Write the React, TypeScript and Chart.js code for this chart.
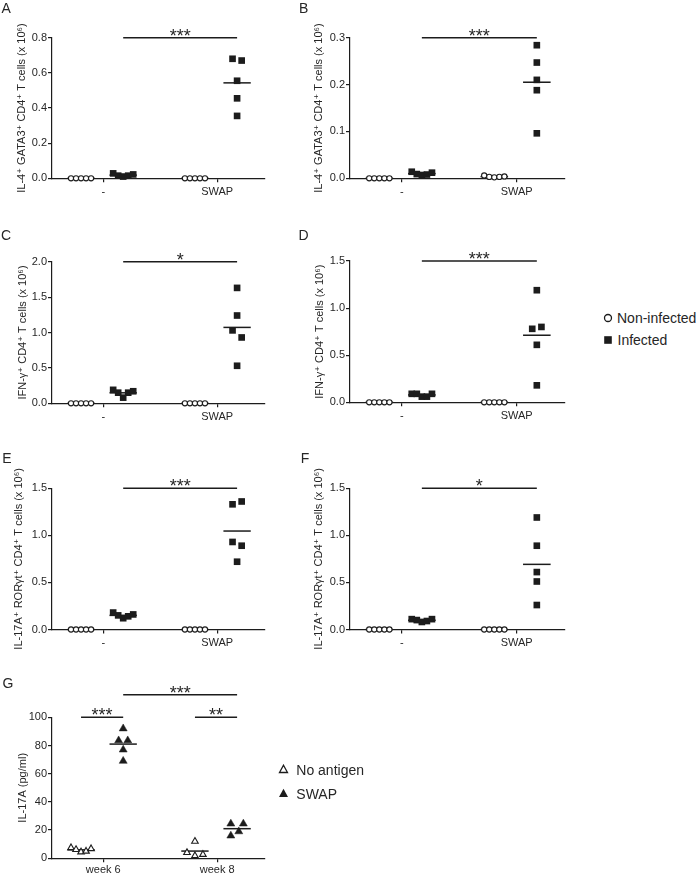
import React, { useEffect, useRef } from 'react';
import { Chart, registerables } from 'chart.js';

Chart.register(...registerables);

const FONT = "'Liberation Sans', Arial, 'DejaVu Sans', sans-serif";
const INK = '#1c1c1c';
const TXT = '#262626';

// ---- categories and tick labels ----
const cellCategories = ['-', 'SWAP'];
const weekCategories = ['week 6', 'week 8'];
const ticksA = [0, 0.2, 0.4, 0.6, 0.8];
const ticksB = [0, 0.1, 0.2, 0.3];
const ticksC = [0, 0.5, 1.0, 1.5, 2.0];
const ticksDEF = [0, 0.5, 1.0, 1.5];
const ticksG = [0, 20, 40, 60, 80, 100];

// ---- Panel A: IL-4+ GATA3+ CD4+ T cells (x10^6) ----
const aNonInfMinus = [0, 0, 0, 0, 0];
const aInfMinus = [0.028, 0.015, 0.01, 0.015, 0.022];
const aNonInfSwap = [0, 0, 0, 0, 0];
const aInfSwap = [0.68, 0.67, 0.555, 0.455, 0.355];

// ---- Panel B ----
const bNonInfMinus = [0, 0, 0, 0, 0];
const bInfMinus = [0.014, 0.009, 0.007, 0.008, 0.012];
const bNonInfSwap = [0.006, 0.003, 0.002, 0.003, 0.004];
const bInfSwap = [0.284, 0.247, 0.21, 0.188, 0.096];

// ---- Panel C: IFN-g+ CD4+ ----
const cNonInfMinus = [0, 0, 0, 0, 0];
const cInfMinus = [0.19, 0.15, 0.08, 0.15, 0.17];
const cNonInfSwap = [0, 0, 0, 0, 0];
const cInfSwap = [1.63, 1.24, 1.03, 0.93, 0.53];

// ---- Panel D ----
const dNonInfMinus = [0, 0, 0, 0, 0];
const dInfMinus = [0.09, 0.09, 0.06, 0.06, 0.09];
const dNonInfSwap = [0, 0, 0, 0, 0];
const dInfSwap = [1.19, 0.78, 0.8, 0.61, 0.18];

// ---- Panel E: IL-17A+ RORgt+ CD4+ ----
const eNonInfMinus = [0, 0, 0, 0, 0];
const eInfMinus = [0.18, 0.15, 0.12, 0.14, 0.16];
const eNonInfSwap = [0, 0, 0, 0, 0];
const eInfSwap = [1.33, 1.36, 0.93, 0.89, 0.72];

// ---- Panel F ----
const fNonInfMinus = [0, 0, 0, 0, 0];
const fInfMinus = [0.11, 0.1, 0.08, 0.09, 0.11];
const fNonInfSwap = [0, 0, 0, 0, 0];
const fInfSwap = [1.19, 0.89, 0.61, 0.51, 0.26];

// ---- Panel G: IL-17A (pg/ml) ----
const gNoAgWeek6 = [7.5, 6.2, 4.5, 5.0, 6.8];
const gSwapWeek6 = [92, 83.5, 83.5, 77, 69];
const gNoAgWeek8 = [12, 4, 1.8, 2.7];
const gSwapWeek8 = [24.5, 24.5, 16, 19];

// ---- horizontal scatter offsets (layout only) ----
const spreadA = [-0.04, 0.04, 0, 0, 0];
const spreadB = [0, 0, 0, 0, 0];
const spreadC = [0, 0, -0.04, 0.04, 0];
const spreadD = [0, -0.04, 0.04, 0, 0];
const spreadE = [-0.04, 0.04, -0.04, 0.04, 0];
const spreadF = [0, 0, 0, 0, 0];
const spreadG6 = [0, -0.04, 0.04, 0, 0];
const spreadG8open = [0, -0.07, 0, 0.07];
const spreadG8fill = [-0.055, 0.055, -0.055, 0.015];

const LEFT_OFF = -0.195;
const RIGHT_OFF = 0.175;
const MEAN_HALF = 0.12;

type Group = { cat: number; side: 'L' | 'R'; values: number[]; spread?: number[]; open: boolean };
type Sig = { from: [number, 'L' | 'R']; to: [number, 'L' | 'R']; y: number; label: string };
type PanelCfg = {
  canvas: { left: number; top: number; width: number; height: number };
  area: { L: number; T: number; R: number; B: number };
  yTicks: number[];
  decimals: number;
  title: string;
  titleCenter: number;
  labels: string[];
  groups: Group[];
  sigs: Sig[];
  triangles: boolean;
  xPad: number;
};

const groupX = (cat: number, side: 'L' | 'R') => cat + (side === 'L' ? LEFT_OFF : RIGHT_OFF);
const defaultSpread = (n: number) => Array.from({ length: n }, (_, i) => (i - (n - 1) / 2) * 0.044);
const mean = (v: number[]) => v.reduce((a, b) => a + b, 0) / v.length;

function cellGroups(nm: number[], im: number[], ns: number[], is: number[], spread: number[]): Group[] {
  return [
    { cat: 1, side: 'L', values: nm, open: true },
    { cat: 1, side: 'R', values: im, open: false },
    { cat: 2, side: 'L', values: ns, open: true },
    { cat: 2, side: 'R', values: is, open: false, spread },
  ];
}

const leftCol = 0;
const rightCol = 290;

const panels: PanelCfg[] = [
  {
    canvas: { left: leftCol, top: 0, width: 290, height: 205 },
    area: { L: 52, T: 37.7, R: 265, B: 178.3 },
    yTicks: ticksA, decimals: 1,
    title: 'IL-4⁺ GATA3⁺ CD4⁺ T cells (x 10⁶)', titleCenter: 22,
    labels: cellCategories,
    groups: cellGroups(aNonInfMinus, aInfMinus, aNonInfSwap, aInfSwap, spreadA),
    sigs: [{ from: [1, 'R'], to: [2, 'R'], y: 0.8, label: '***' }],
    triangles: false, xPad: 3,
  },
  {
    canvas: { left: rightCol, top: 0, width: 290, height: 205 },
    area: { L: 350, T: 37.7, R: 565, B: 178.3 },
    yTicks: ticksB, decimals: 1,
    title: 'IL-4⁺ GATA3⁺ CD4⁺ T cells (x 10⁶)', titleCenter: 319,
    labels: cellCategories,
    groups: cellGroups(bNonInfMinus, bInfMinus, bNonInfSwap, bInfSwap, spreadB),
    sigs: [{ from: [1, 'R'], to: [2, 'R'], y: 0.3, label: '***' }],
    triangles: false, xPad: 3,
  },
  {
    canvas: { left: leftCol, top: 215, width: 290, height: 215 },
    area: { L: 52, T: 261.7, R: 265, B: 403.3 },
    yTicks: ticksC, decimals: 1,
    title: 'IFN-γ⁺ CD4⁺ T cells (x 10⁶)', titleCenter: 22.5,
    labels: cellCategories,
    groups: cellGroups(cNonInfMinus, cInfMinus, cNonInfSwap, cInfSwap, spreadC),
    sigs: [{ from: [1, 'R'], to: [2, 'R'], y: 2.0, label: '*' }],
    triangles: false, xPad: 3,
  },
  {
    canvas: { left: rightCol, top: 215, width: 290, height: 215 },
    area: { L: 350, T: 261, R: 565, B: 402.3 },
    yTicks: ticksDEF, decimals: 1,
    title: 'IFN-γ⁺ CD4⁺ T cells (x 10⁶)', titleCenter: 320,
    labels: cellCategories,
    groups: cellGroups(dNonInfMinus, dInfMinus, dNonInfSwap, dInfSwap, spreadD),
    sigs: [{ from: [1, 'R'], to: [2, 'R'], y: 1.5, label: '***' }],
    triangles: false, xPad: 3,
  },
  {
    canvas: { left: leftCol, top: 440, width: 290, height: 215 },
    area: { L: 52, T: 488.3, R: 265, B: 629.5 },
    yTicks: ticksDEF, decimals: 1,
    title: 'IL-17A⁺ RORγt⁺ CD4⁺ T cells (x 10⁶)', titleCenter: 19,
    labels: cellCategories,
    groups: cellGroups(eNonInfMinus, eInfMinus, eNonInfSwap, eInfSwap, spreadE),
    sigs: [{ from: [1, 'R'], to: [2, 'R'], y: 1.5, label: '***' }],
    triangles: false, xPad: 3,
  },
  {
    canvas: { left: rightCol, top: 440, width: 290, height: 215 },
    area: { L: 350, T: 488.3, R: 565, B: 629.5 },
    yTicks: ticksDEF, decimals: 1,
    title: 'IL-17A⁺ RORγt⁺ CD4⁺ T cells (x 10⁶)', titleCenter: 319,
    labels: cellCategories,
    groups: cellGroups(fNonInfMinus, fInfMinus, fNonInfSwap, fInfSwap, spreadF),
    sigs: [{ from: [1, 'R'], to: [2, 'R'], y: 1.5, label: '*' }],
    triangles: false, xPad: 3,
  },
  {
    canvas: { left: leftCol, top: 665, width: 290, height: 209 },
    area: { L: 52, T: 717.3, R: 265, B: 858.3 },
    yTicks: ticksG, decimals: 0,
    title: 'IL-17A (pg/ml)', titleCenter: 23,
    labels: weekCategories,
    groups: [
      { cat: 1, side: 'L', values: gNoAgWeek6, open: true },
      { cat: 1, side: 'R', values: gSwapWeek6, open: false, spread: spreadG6 },
      { cat: 2, side: 'L', values: gNoAgWeek8, open: true, spread: spreadG8open },
      { cat: 2, side: 'R', values: gSwapWeek8, open: false, spread: spreadG8fill },
    ],
    sigs: [
      { from: [1, 'R'], to: [2, 'R'], y: 116, label: '***' },
      { from: [1, 'L'], to: [1, 'R'], y: 100, label: '***' },
      { from: [2, 'L'], to: [2, 'R'], y: 100, label: '**' },
    ],
    triangles: true, xPad: 1,
  },
];

function Panel({ cfg }: { cfg: PanelCfg }) {
  const ref = useRef<HTMLCanvasElement | null>(null);
  useEffect(() => {
    if (!ref.current) return;
    const { canvas, area } = cfg;
    const yW = area.L - canvas.left;
    const xH = canvas.top + canvas.height - area.B;
    const padTop = area.T - canvas.top;
    const padRight = canvas.left + canvas.width - area.R;
    const titleLine = 11 * 1.2;
    const titlePad = cfg.titleCenter - canvas.left - titleLine / 2;

    const datasets: any[] = [];
    cfg.groups.forEach((g) => {
      const cx = groupX(g.cat, g.side);
      const sp = g.spread || defaultSpread(g.values.length);
      const style = cfg.triangles
        ? g.open
          ? { pointStyle: 'triangle', pointRadius: 3.8, pointBackgroundColor: '#fff', pointBorderColor: INK, pointBorderWidth: 1.1 }
          : { pointStyle: 'triangle', pointRadius: 4.6, pointBackgroundColor: INK, pointBorderColor: INK, pointBorderWidth: 0.5 }
        : g.open
          ? { pointStyle: 'circle', pointRadius: 2.6, pointBackgroundColor: '#fff', pointBorderColor: INK, pointBorderWidth: 1.1 }
          : { pointStyle: 'rect', pointRadius: 4.7, pointBackgroundColor: INK, pointBorderColor: INK, pointBorderWidth: 0 };
      datasets.push({
        type: 'scatter',
        data: g.values.map((v, i) => ({ x: cx + sp[i], y: v })),
        ...style,
        showLine: false,
        clip: false,
        order: 1,
      });
      const m = mean(g.values);
      datasets.push({
        type: 'scatter',
        data: [{ x: cx - MEAN_HALF, y: m }, { x: cx + MEAN_HALF, y: m }],
        showLine: true,
        borderColor: INK,
        borderWidth: 1.5,
        pointRadius: 0,
        clip: false,
        order: 2,
      });
    });

    const sigPlugin = {
      id: 'sigbars',
      afterDatasetsDraw(chart: any) {
        const ctx = chart.ctx;
        const xs = chart.scales.x;
        const ys = chart.scales.y;
        ctx.save();
        ctx.strokeStyle = INK;
        ctx.fillStyle = TXT;
        ctx.lineWidth = 1.4;
        ctx.font = `18px ${FONT}`;
        ctx.textAlign = 'center';
        ctx.textBaseline = 'alphabetic';
        cfg.sigs.forEach((s) => {
          const x1 = xs.getPixelForValue(groupX(s.from[0], s.from[1]));
          const x2 = xs.getPixelForValue(groupX(s.to[0], s.to[1]));
          const y = ys.getPixelForValue(s.y);
          ctx.beginPath();
          ctx.moveTo(x1, y);
          ctx.lineTo(x2, y);
          ctx.stroke();
          ctx.fillText(s.label, (x1 + x2) / 2, y + 4);
        });
        ctx.restore();
      },
    };

    const yMax = cfg.yTicks[cfg.yTicks.length - 1];
    const chart = new Chart(ref.current, {
      type: 'scatter',
      data: { datasets },
      plugins: [sigPlugin],
      options: {
        animation: false,
        responsive: false,
        devicePixelRatio: 1,
        layout: { padding: { top: padTop, right: padRight, left: 0, bottom: 0 } },
        plugins: { legend: { display: false }, tooltip: { enabled: false } },
        scales: {
          x: {
            type: 'linear',
            min: 0.55,
            max: 2.42,
            afterBuildTicks: (s: any) => {
              s.ticks = cfg.labels.map((_, i) => ({ value: i + 1 }));
            },
            afterFit: (s: any) => {
              s.height = xH;
            },
            ticks: {
              callback: (v: any) => cfg.labels[Math.round(Number(v)) - 1],
              font: { family: FONT, size: 11 },
              color: TXT,
              padding: cfg.xPad,
              maxRotation: 0,
              autoSkip: false,
            },
            grid: { drawOnChartArea: false, drawTicks: true, tickLength: 4, color: INK, lineWidth: 1.2 },
            border: { display: true, color: INK, width: 1.2 },
          },
          y: {
            type: 'linear',
            min: 0,
            max: yMax,
            afterBuildTicks: (s: any) => {
              s.ticks = cfg.yTicks.map((v) => ({ value: v }));
            },
            afterFit: (s: any) => {
              s.width = yW;
            },
            ticks: {
              callback: (v: any) => Number(v).toFixed(cfg.decimals),
              font: { family: FONT, size: 11 },
              color: TXT,
              padding: 1,
            },
            grid: { drawOnChartArea: false, drawTicks: true, tickLength: 4, color: INK, lineWidth: 1.2 },
            border: { display: true, color: INK, width: 1.2 },
            title: {
              display: true,
              text: cfg.title,
              font: { family: FONT, size: 11 },
              color: TXT,
              padding: { top: titlePad, bottom: 0 },
            },
          },
        },
      } as any,
    });
    return () => chart.destroy();
  }, [cfg]);
  const c = cfg.canvas;
  return (
    <canvas
      ref={ref}
      width={c.width}
      height={c.height}
      style={{ position: 'absolute', left: c.left, top: c.top, width: c.width, height: c.height }}
    />
  );
}

const letterStyle: React.CSSProperties = {
  position: 'absolute',
  fontFamily: FONT,
  fontSize: 14,
  lineHeight: '14px',
  color: TXT,
  whiteSpace: 'nowrap',
};

const panelLetters: { t: string; x: number; y: number }[] = [
  { t: 'A', x: 1.5, y: 1.4 },
  { t: 'B', x: 299, y: 1.4 },
  { t: 'C', x: 1, y: 228.1 },
  { t: 'D', x: 298.5, y: 228.1 },
  { t: 'E', x: 2.3, y: 451.2 },
  { t: 'F', x: 300.8, y: 451 },
  { t: 'G', x: 2.6, y: 676.4 },
];

export default function App() {
  return (
    <div style={{ position: 'fixed', left: 0, top: 0, width: 700, height: 874, background: '#fff', overflow: 'hidden' }}>
      {panels.map((p, i) => (
        <Panel key={i} cfg={p} />
      ))}
      {panelLetters.map((l) => (
        <div key={l.t} style={{ ...letterStyle, left: l.x, top: l.y }}>{l.t}</div>
      ))}
      {/* legend: cell panels */}
      <svg style={{ position: 'absolute', left: 603, top: 312.5 }} width={10} height={10}>
        <circle cx={5} cy={5} r={3.5} fill="#fff" stroke={INK} strokeWidth={1.3} />
      </svg>
      <div style={{ ...letterStyle, left: 617, top: 310.8 }}>Non-infected</div>
      <svg style={{ position: 'absolute', left: 603, top: 335 }} width={10} height={10}>
        <rect x={1.2} y={1.2} width={7.6} height={7.6} fill={INK} />
      </svg>
      <div style={{ ...letterStyle, left: 617.5, top: 333.1 }}>Infected</div>
      {/* legend: panel G */}
      <svg style={{ position: 'absolute', left: 278, top: 764 }} width={11} height={10}>
        <polygon points="5.5,1.2 9.5,8.5 1.5,8.5" fill="#fff" stroke={INK} strokeWidth={1.3} />
      </svg>
      <div style={{ ...letterStyle, left: 296.3, top: 763.1 }}>No antigen</div>
      <svg style={{ position: 'absolute', left: 278, top: 788 }} width={11} height={10}>
        <polygon points="5.5,0.8 10,9 1,9" fill={INK} />
      </svg>
      <div style={{ ...letterStyle, left: 296.3, top: 787.4 }}>SWAP</div>
    </div>
  );
}
